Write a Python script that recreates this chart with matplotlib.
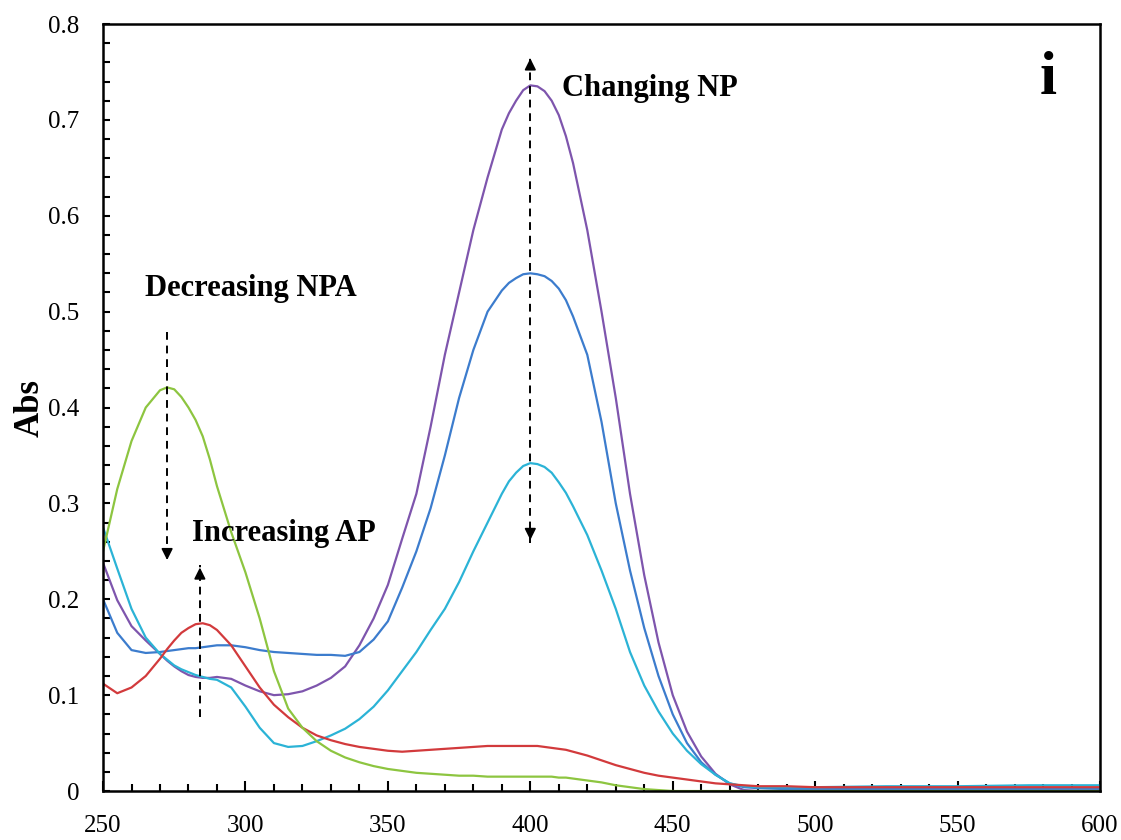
"""
UV-vis spectra: NPA -> AP reduction with changing NP band.
"""

import matplotlib
matplotlib.use("Agg")
import matplotlib.pyplot as plt
from matplotlib.ticker import MultipleLocator

# ── DATA ────────────────────────────────────────────────────────────
wavelength = [250, 255, 260, 265, 270, 272.5, 275, 277.5, 280, 282.5, 285, 287.5, 290, 295,
              300, 305, 310, 315, 320, 325, 330, 335, 340, 345,
              350, 355, 360, 365, 370, 375, 380, 385, 390, 392.5, 395, 397.5,
              400, 402.5, 405, 407.5, 410, 412.5, 415, 420, 425, 430, 435, 440, 445,
              450, 455, 460, 465, 470, 475, 480, 490, 500, 525, 550, 575, 600]

abs_npa = [0.250, 0.315, 0.365, 0.400, 0.418, 0.421, 0.419, 0.411, 0.400, 0.387, 0.370, 0.346, 0.318, 0.270,
           0.228, 0.180, 0.125, 0.086, 0.066, 0.052, 0.042, 0.035, 0.030, 0.026,
           0.023, 0.021, 0.019, 0.018, 0.017, 0.016, 0.016, 0.015, 0.015, 0.015, 0.015, 0.015,
           0.015, 0.015, 0.015, 0.015, 0.014, 0.014, 0.013, 0.011, 0.009, 0.006, 0.004, 0.002, 0.001,
           0.000, 0.000, 0.000, 0.000, 0.000, 0.000, 0.000, 0.000, 0.000, 0.000, 0.000, 0.000, 0.000]

abs_ap = [0.112, 0.102, 0.108, 0.120, 0.138, 0.148, 0.157, 0.165, 0.170, 0.174, 0.175, 0.173, 0.168, 0.152,
          0.130, 0.108, 0.090, 0.077, 0.066, 0.058, 0.053, 0.049, 0.046, 0.044,
          0.042, 0.041, 0.042, 0.043, 0.044, 0.045, 0.046, 0.047, 0.047, 0.047, 0.047, 0.047,
          0.047, 0.047, 0.046, 0.045, 0.044, 0.043, 0.041, 0.037, 0.032, 0.027, 0.023, 0.019, 0.016,
          0.014, 0.012, 0.010, 0.008, 0.007, 0.006, 0.005, 0.005, 0.004, 0.004, 0.004, 0.004, 0.004]

abs_np_high = [0.238, 0.199, 0.172, 0.157, 0.143, 0.136, 0.130, 0.125, 0.121, 0.119, 0.118, 0.118, 0.119, 0.117,
               0.110, 0.104, 0.100, 0.101, 0.104, 0.110, 0.118, 0.130, 0.152, 0.180,
               0.215, 0.263, 0.310, 0.380, 0.455, 0.520, 0.585, 0.640, 0.690, 0.707, 0.720, 0.731,
               0.736, 0.735, 0.730, 0.720, 0.705, 0.683, 0.655, 0.585, 0.500, 0.410, 0.310, 0.225, 0.155,
               0.100, 0.062, 0.036, 0.018, 0.007, 0.001, 0.000, 0.000, 0.000, 0.000, 0.000, 0.000, 0.000]

abs_np_mid = [0.200, 0.165, 0.147, 0.144, 0.145, 0.146, 0.147, 0.148, 0.149, 0.149, 0.150, 0.151, 0.152, 0.152,
              0.150, 0.147, 0.145, 0.144, 0.143, 0.142, 0.142, 0.141, 0.145, 0.158,
              0.177, 0.212, 0.250, 0.295, 0.350, 0.410, 0.460, 0.500, 0.522, 0.530, 0.535, 0.539,
              0.540, 0.539, 0.537, 0.532, 0.524, 0.512, 0.495, 0.455, 0.385, 0.300, 0.230, 0.170, 0.120,
              0.080, 0.050, 0.030, 0.017, 0.008, 0.004, 0.003, 0.002, 0.002, 0.002, 0.002, 0.002, 0.002]

abs_np_low = [0.275, 0.232, 0.190, 0.160, 0.143, 0.137, 0.131, 0.127, 0.124, 0.121, 0.119, 0.117, 0.116, 0.108,
              0.088, 0.066, 0.050, 0.046, 0.047, 0.052, 0.058, 0.065, 0.075, 0.088,
              0.105, 0.125, 0.145, 0.168, 0.190, 0.218, 0.250, 0.280, 0.310, 0.323, 0.332, 0.339,
              0.342, 0.341, 0.338, 0.332, 0.322, 0.311, 0.297, 0.267, 0.230, 0.190, 0.145, 0.110, 0.083,
              0.060, 0.042, 0.028, 0.017, 0.008, 0.005, 0.004, 0.004, 0.004, 0.005, 0.005, 0.006, 0.006]

series = [
    (abs_np_high, "#7e55ad"),
    (abs_np_mid, "#3c7ccd"),
    (abs_np_low, "#2bb3d6"),
    (abs_ap, "#d23a3c"),
    (abs_npa, "#8dc540"),
]

# ── STYLE ───────────────────────────────────────────────────────────
plt.rcParams["font.family"] = ["Liberation Serif", "DejaVu Serif"]

fig = plt.figure(figsize=(11.21, 8.40), dpi=100)
ax = fig.add_axes([0.0919, 0.0583, 0.8894, 0.9131])

for values, color in series:
    ax.plot(wavelength, values, color=color, lw=1.6, solid_joinstyle="round")

ax.set_xlim(250, 600)
ax.set_ylim(0, 0.8)
ax.xaxis.set_major_locator(MultipleLocator(50))
ax.xaxis.set_minor_locator(MultipleLocator(10))
ax.yaxis.set_major_locator(MultipleLocator(0.1))
ax.yaxis.set_minor_locator(MultipleLocator(0.02))
ax.yaxis.set_major_formatter(plt.FuncFormatter(lambda v, p: "0" if v == 0 else f"{v:.1f}"))

ax.tick_params(which="both", direction="in", top=False, right=False,
               labelsize=18, width=1.5, colors="black")
ax.tick_params(axis="x", which="major", length=7, pad=17)
ax.tick_params(axis="x", which="minor", length=5)
ax.tick_params(axis="y", which="both", length=5, pad=17)
for s in ax.spines.values():
    s.set_linewidth(1.8)

ax.set_ylabel("Abs", fontsize=25, fontweight="bold", labelpad=1)

# ── ANNOTATIONS ─────────────────────────────────────────────────────
dash = (0, (4, 3))


def dashed_arrow(x, y_from, y_to, both=False):
    ax.plot([x, x], [y_from, y_to], color="black", lw=1.4, ls=dash)
    head = dict(arrowstyle="-|>", color="black", lw=1.2, mutation_scale=17)
    step = 0.01 if y_to > y_from else -0.01
    ax.annotate("", xy=(x, y_to), xytext=(x, y_to - step), arrowprops=head)
    if both:
        ax.annotate("", xy=(x, y_from), xytext=(x, y_from + step), arrowprops=head)


dashed_arrow(400, 0.259, 0.767, both=True)
dashed_arrow(272.5, 0.479, 0.238)
dashed_arrow(284, 0.077, 0.236)

ax.text(411, 0.733, "Changing NP", fontsize=22, fontweight="bold", va="center")
ax.text(264.7, 0.524, "Decreasing NPA", fontsize=22, fontweight="bold", va="center")
ax.text(281.2, 0.269, "Increasing AP", fontsize=22, fontweight="bold", va="center")
ax.text(581.7, 0.727, "i", fontsize=44, fontweight="bold", ha="center", va="baseline")

fig.savefig("out.png", dpi=100)
